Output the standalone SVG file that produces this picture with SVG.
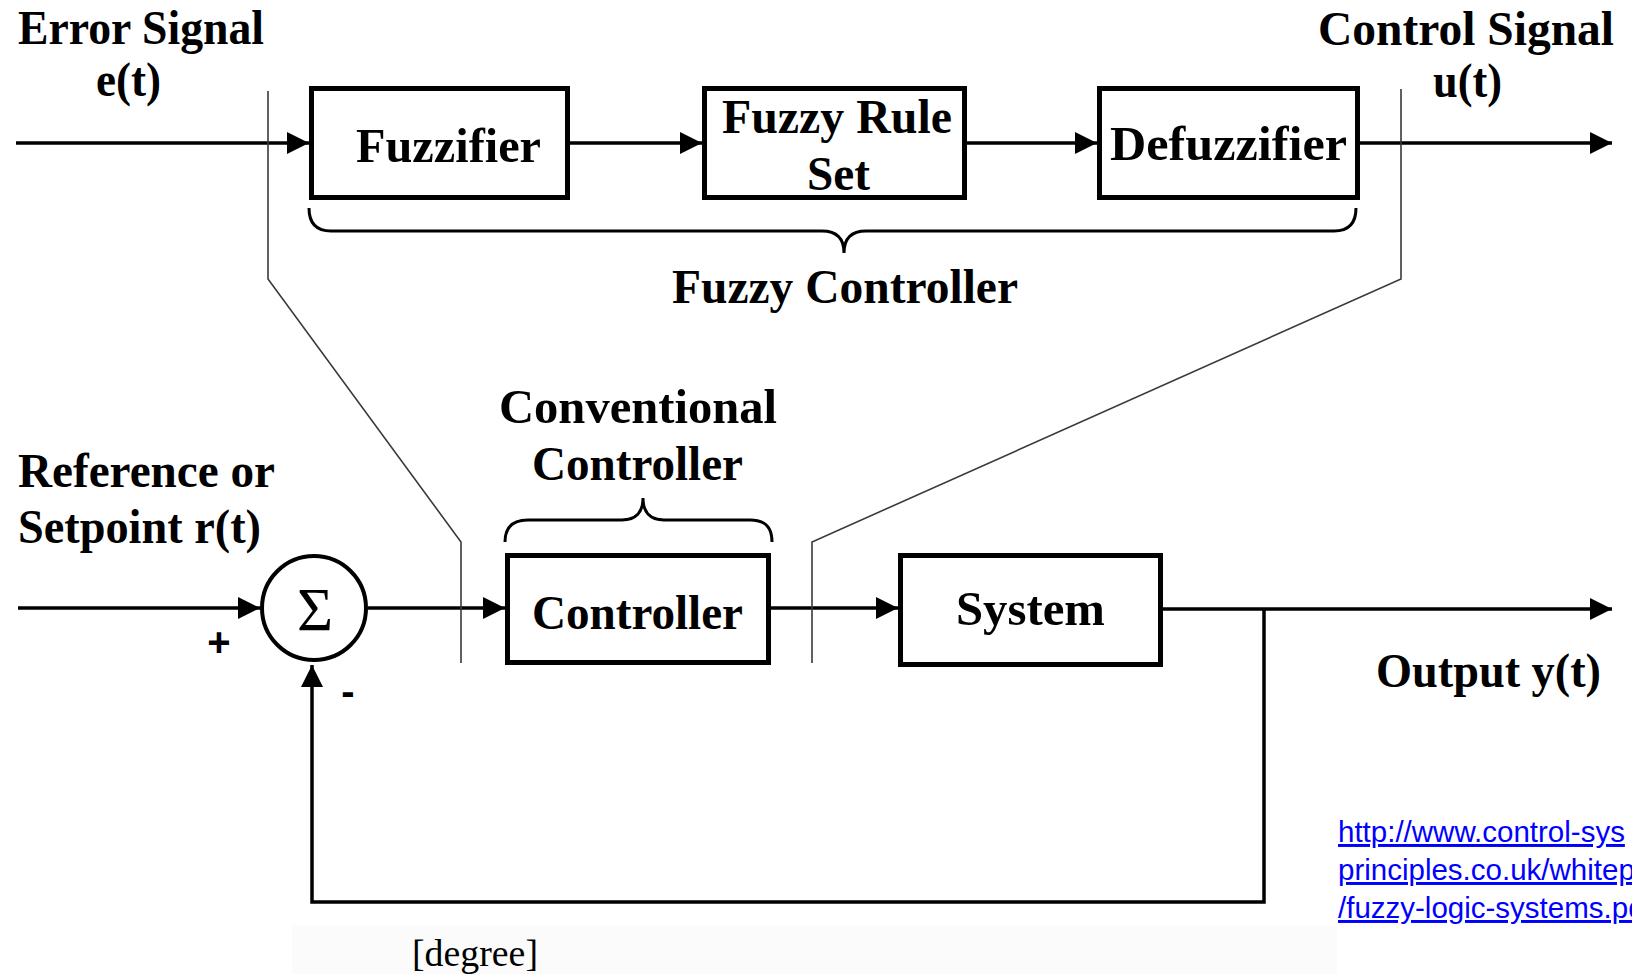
<svg xmlns="http://www.w3.org/2000/svg" width="1632" height="974" viewBox="0 0 1632 974">
  <style>
    .lbl { font-family: "Liberation Serif", "Times New Roman", serif; font-weight: 700; font-size: 48px; fill: #000; }
    .box { fill: #fff; stroke: #000; stroke-width: 5; }
    .wire { fill: none; stroke: #000; stroke-width: 3.5; }
    .brace { fill: none; stroke: #000; stroke-width: 3; }
    .guide { fill: none; stroke: #3a3a3a; stroke-width: 1.6; }
    .url { font-family: "Liberation Sans", Arial, sans-serif; font-size: 29.5px; fill: #0000ff; text-decoration: underline; }
    .sign { font-family: "Liberation Sans", Arial, sans-serif; font-weight: 700; font-size: 40px; fill: #000; }
  </style>
  <defs>
    <marker id="arrow" markerUnits="userSpaceOnUse" markerWidth="24" markerHeight="24" refX="23" refY="12" orient="auto">
      <path d="M1,1 L23,12 L1,23 Z" fill="#000"/>
    </marker>
  </defs>

  <rect width="1632" height="974" fill="#fff"/>
  <!-- faint backdrop behind the unit note -->
  <rect x="292" y="925" width="1045" height="49" fill="#fbfbfb"/>

  <!-- signal lines and arrows -->
  <g id="connectors">
    <path class="wire" d="M16,143 H309" marker-end="url(#arrow)"/>
    <path class="wire" d="M570,143 H702" marker-end="url(#arrow)"/>
    <path class="wire" d="M967,143 H1097" marker-end="url(#arrow)"/>
    <path class="wire" d="M1360,143 H1612" marker-end="url(#arrow)"/>

    <path class="wire" d="M18,608 H260" marker-end="url(#arrow)"/>
    <path class="wire" d="M368,608 H505" marker-end="url(#arrow)"/>
    <path class="wire" d="M771,608 H898" marker-end="url(#arrow)"/>
    <path class="wire" d="M1163,609 H1612" marker-end="url(#arrow)"/>
    <path class="wire" d="M1264,609 V902 H312 V665" marker-end="url(#arrow)"/>

    <!-- callout lines tying the fuzzy block to the controller slot -->
    <path class="guide" d="M268,91 V279 L461,542 V663"/>
    <path class="guide" d="M1401,89 V279 L812,542 V663"/>
  </g>

  <g id="error-signal">
    <text class="lbl" x="18" y="44" textLength="246" lengthAdjust="spacingAndGlyphs">Error Signal</text>
    <text class="lbl" x="96" y="96" textLength="65" lengthAdjust="spacingAndGlyphs">e(t)</text>
  </g>

  <g id="control-signal">
    <text class="lbl" x="1318" y="45" textLength="296" lengthAdjust="spacingAndGlyphs">Control Signal</text>
    <text class="lbl" x="1433" y="97" textLength="69" lengthAdjust="spacingAndGlyphs">u(t)</text>
  </g>

  <g id="fuzzifier">
    <rect class="box" x="311.5" y="88.5" width="256" height="109"/>
    <text class="lbl" x="356" y="162" textLength="185" lengthAdjust="spacingAndGlyphs">Fuzzifier</text>
  </g>

  <g id="fuzzy-rule-set">
    <rect class="box" x="704.5" y="88.5" width="260" height="109"/>
    <text class="lbl" x="722" y="133" textLength="230" lengthAdjust="spacingAndGlyphs">Fuzzy Rule</text>
    <text class="lbl" x="807" y="190" textLength="63" lengthAdjust="spacingAndGlyphs">Set</text>
  </g>

  <g id="defuzzifier">
    <rect class="box" x="1099.5" y="88.5" width="258" height="109"/>
    <text class="lbl" x="1110" y="160" textLength="237" lengthAdjust="spacingAndGlyphs">Defuzzifier</text>
  </g>

  <g id="fuzzy-controller">
    <path class="brace" d="M309,208 Q309,231 331,231 H822 C836,231 844,238 844,253 C844,238 852,231 866,231 H1334 Q1356,231 1356,208"/>
    <text class="lbl" x="672" y="303" textLength="346" lengthAdjust="spacingAndGlyphs">Fuzzy Controller</text>
  </g>

  <g id="reference">
    <text class="lbl" x="18" y="487" textLength="257" lengthAdjust="spacingAndGlyphs">Reference or</text>
    <text class="lbl" x="18" y="543" textLength="243" lengthAdjust="spacingAndGlyphs">Setpoint r(t)</text>
  </g>

  <g id="summing-junction">
    <circle cx="314" cy="608" r="52" fill="#fff" stroke="#000" stroke-width="4"/>
    <text x="315" y="630" text-anchor="middle" font-family="'Liberation Serif', 'Times New Roman', serif" font-size="62" fill="#000">Σ</text>
    <text class="sign" x="219" y="656" text-anchor="middle">+</text>
    <text class="sign" x="348" y="705" text-anchor="middle">-</text>
  </g>

  <g id="conventional-controller">
    <text class="lbl" x="499" y="423" textLength="278" lengthAdjust="spacingAndGlyphs">Conventional</text>
    <text class="lbl" x="532" y="480" textLength="211" lengthAdjust="spacingAndGlyphs">Controller</text>
    <path class="brace" d="M505,542 C505,528 512,520 528,520 H622 C636,520 643,512 643,498 C643,512 650,520 664,520 H750 C766,520 772,528 772,542"/>
  </g>

  <g id="controller">
    <rect class="box" x="507.5" y="555.5" width="261" height="107"/>
    <text class="lbl" x="532" y="629" textLength="211" lengthAdjust="spacingAndGlyphs">Controller</text>
  </g>

  <g id="system">
    <rect class="box" x="900.5" y="555.5" width="260" height="109"/>
    <text class="lbl" x="956" y="625" textLength="149" lengthAdjust="spacingAndGlyphs">System</text>
  </g>

  <g id="output">
    <text class="lbl" x="1376" y="687" textLength="225" lengthAdjust="spacingAndGlyphs">Output y(t)</text>
  </g>

  <g id="source-link">
    <text class="url" x="1338" y="842">http://www.control-sys</text>
    <text class="url" x="1338" y="880">principles.co.uk/whitep</text>
    <text class="url" x="1338" y="918">/fuzzy-logic-systems.pd</text>
  </g>

  <g id="unit-note">
    <text x="412" y="966" font-family="'Liberation Serif', 'Times New Roman', serif" font-size="38" fill="#000" textLength="126" lengthAdjust="spacingAndGlyphs">[degree]</text>
  </g>
</svg>
